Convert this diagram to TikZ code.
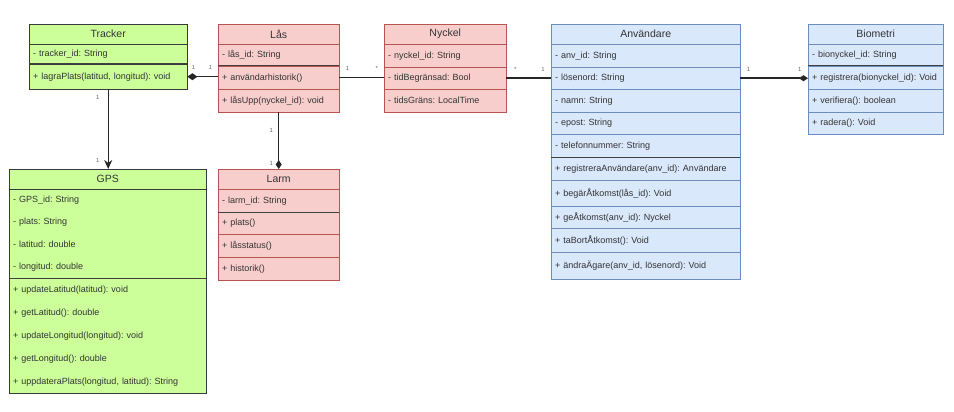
\documentclass[tikz,border=0pt]{standalone}
\usepackage{fontspec}
\setmainfont{Liberation Sans}
\usetikzlibrary{arrows.meta}
\frenchspacing

\definecolor{greenfill}{HTML}{CCFF99}
\definecolor{greenline}{HTML}{36393D}
\definecolor{redfill}{HTML}{F8CECC}
\definecolor{redline}{HTML}{B85450}
\definecolor{bluefill}{HTML}{DAE8FC}
\definecolor{blueline}{HTML}{6C8EBF}

\begin{document}
\begin{tikzpicture}[x=1pt, y=-1pt]
		\tikzset{row/.style = {shape=rectangle, anchor=north west, inner xsep=4pt, inner ysep=0pt, align=left, text width=#1, font=\fontsize{9}{10}\selectfont, text=black!80}}
		\tikzset{title/.style = {row=#1, align=center, minimum height=20pt, font=\fontsize{10.5}{12}\selectfont}}
		\tikzset{greenbox/.style = {fill=greenfill, draw=greenline}}
		\tikzset{redbox/.style = {fill=redfill, draw=redline}}
		\tikzset{bluebox/.style = {fill=bluefill, draw=blueline}}
		\tikzset{divider/.style = {draw=black!75, line width=1pt}}
		\tikzset{link/.style = {draw=black!85, line width=1.4pt}}
		\tikzset{mult/.style = {font=\fontsize{6}{7}\selectfont, text=black!60, inner sep=1pt}}

		\useasboundingbox (0,0) rectangle (954,412);

		% Tracker
		\node[title=150pt, greenbox] (tracker) at (29,24) {Tracker};
		\node[row=150pt, greenbox, minimum height=20pt] (tracker_id) at (29,44) {- tracker\_id: String};
		\node[row=150pt, greenbox, minimum height=25pt] (lagraPlats) at (29,64) {+ lagraPlats(latitud, longitud): void};
		\draw[divider] (lagraPlats.north west) -- (lagraPlats.north east);

		% Lås
		\node[title=113pt, redbox] (las) at (218,24) {Lås};
		\node[row=113pt, redbox, minimum height=22pt] (las_id) at (218,44) {- lås\_id: String};
		\node[row=113pt, redbox, minimum height=23pt] (anvHistorik) at (218,66) {+ användarhistorik()};
		\node[row=113pt, redbox, minimum height=23pt] (lasUpp) at (218,89) {+ låsUpp(nyckel\_id): void};
		\draw[divider] (anvHistorik.north west) -- (anvHistorik.north east);

		% Nyckel
		\node[title=114pt, redbox] (nyckel) at (384,24) {Nyckel};
		\node[row=114pt, redbox, minimum height=23pt] (nyckel_id) at (384,44) {- nyckel\_id: String};
		\node[row=114pt, redbox, minimum height=22pt] (tidBegransad) at (384,67) {- tidBegränsad: Bool};
		\node[row=114pt, redbox, minimum height=23pt] (tidsGrans) at (384,89) {- tidsGräns: LocalTime};

		% Användare
		\node[title=181pt, bluebox] (anv) at (551,24) {Användare};
		\node[row=181pt, bluebox, minimum height=23pt] (anv_id) at (551,44) {- anv\_id: String};
		\node[row=181pt, bluebox, minimum height=22pt] (losenord) at (551,67) {- lösenord: String};
		\node[row=181pt, bluebox, minimum height=23pt] (namn) at (551,89) {- namn: String};
		\node[row=181pt, bluebox, minimum height=22pt] (epost) at (551,112) {- epost: String};
		\node[row=181pt, bluebox, minimum height=23pt] (telefon) at (551,134) {- telefonnummer: String};
		\node[row=181pt, bluebox, minimum height=23pt] (registreraAnv) at (551,157) {+ registreraAnvändare(anv\_id): Användare};
		\node[row=181pt, bluebox, minimum height=26pt] (begarAtkomst) at (551,180) {+ begärÅtkomst(lås\_id): Void};
		\node[row=181pt, bluebox, minimum height=22pt] (geAtkomst) at (551,206) {+ geÅtkomst(anv\_id): Nyckel};
		\node[row=181pt, bluebox, minimum height=24pt] (taBortAtkomst) at (551,228) {+ taBortÅtkomst(): Void};
		\node[row=181pt, bluebox, minimum height=27pt] (andraAgare) at (551,252) {+ ändraÄgare(anv\_id, lösenord): Void};
		\draw[divider] (registreraAnv.north west) -- (registreraAnv.north east);

		% Biometri
		\node[title=127pt, bluebox] (biometri) at (808,24) {Biometri};
		\node[row=127pt, bluebox, minimum height=22pt] (bionyckel_id) at (808,44) {- bionyckel\_id: String};
		\node[row=127pt, bluebox, minimum height=23pt] (registrera) at (808,66) {+ registrera(bionyckel\_id): Void};
		\node[row=127pt, bluebox, minimum height=23pt] (verifiera) at (808,89) {+ verifiera(): boolean};
		\node[row=127pt, bluebox, minimum height=22pt] (radera) at (808,112) {+ radera(): Void};
		\draw[divider] (registrera.north west) -- (registrera.north east);

		% GPS
		\node[title=189pt, greenbox] (gps) at (9,169) {GPS};
		\node[row=189pt, fill=greenfill, minimum height=22pt] (gps_id) at (9,189) {- GPS\_id: String};
		\node[row=189pt, fill=greenfill, minimum height=22pt] (plats) at (9,211) {- plats: String};
		\node[row=189pt, fill=greenfill, minimum height=23pt] (latitud) at (9,233) {- latitud: double};
		\node[row=189pt, fill=greenfill, minimum height=22pt] (longitud) at (9,256) {- longitud: double};
		\node[row=189pt, fill=greenfill, minimum height=23pt] (updateLatitud) at (9,278) {+ updateLatitud(latitud): void};
		\node[row=189pt, fill=greenfill, minimum height=23pt] (getLatitud) at (9,301) {+ getLatitud(): double};
		\node[row=189pt, fill=greenfill, minimum height=23pt] (updateLongitud) at (9,324) {+ updateLongitud(longitud): void};
		\node[row=189pt, fill=greenfill, minimum height=23pt] (getLongitud) at (9,347) {+ getLongitud(): double};
		\node[row=189pt, fill=greenfill, minimum height=23pt] (uppdateraPlats) at (9,370) {+ uppdateraPlats(longitud, latitud): String};
		\draw[draw=greenline] (gps.north west) rectangle (uppdateraPlats.south east);
		\draw[draw=greenline] (gps.south west) -- (gps.south east);
		\draw[divider] (updateLatitud.north west) -- (updateLatitud.north east);

		% Larm
		\node[title=113pt, redbox] (larm) at (218,169) {Larm};
		\node[row=113pt, redbox, minimum height=23pt] (larm_id) at (218,189) {- larm\_id: String};
		\node[row=113pt, redbox, minimum height=22pt] (larmPlats) at (218,212) {+ plats()};
		\node[row=113pt, redbox, minimum height=23pt] (lasstatus) at (218,234) {+ låsstatus()};
		\node[row=113pt, redbox, minimum height=23pt] (larmHistorik) at (218,257) {+ historik()};
		\draw[divider] (larmPlats.north west) -- (larmPlats.north east);

		\draw[link, -{Stealth[length=9pt, width=8pt]}] (lagraPlats.south) -- node[mult, pos=0.1, left=7pt] {1} node[mult, pos=0.89, left=7pt] {1} (lagraPlats.south |- gps.north);
		\draw[link, {Diamond[length=10pt, width=7pt]}-] (lagraPlats.east) -- node[mult, pos=0.2, above=5pt] {1} node[mult, pos=0.75, above=5pt] {1} (lagraPlats.east -| anvHistorik.west);
		\draw[link, -{Diamond[length=9pt, width=6pt]}] (lasUpp.south) -- node[mult, pos=0.32, left=4pt] {1} node[mult, pos=0.9, left=4pt] {1} (larm.north);
		\draw[link] (anvHistorik.east) -- node[mult, pos=0.18, above=5pt] {1} node[mult, pos=0.84, above=5pt] {*} (anvHistorik.east -| tidBegransad.west);
		\draw[link] (tidBegransad.east) -- node[mult, pos=0.2, above=5pt] {*} node[mult, pos=0.82, above=5pt] {1} (tidBegransad.east -| losenord.west);
		\draw[link, -{Diamond[length=9pt, width=6pt]}] (losenord.east) -- node[mult, pos=0.12, above=5pt] {1} node[mult, pos=0.88, above=5pt] {1} (losenord.east -| registrera.west);

	\end{tikzpicture}
\end{document}
